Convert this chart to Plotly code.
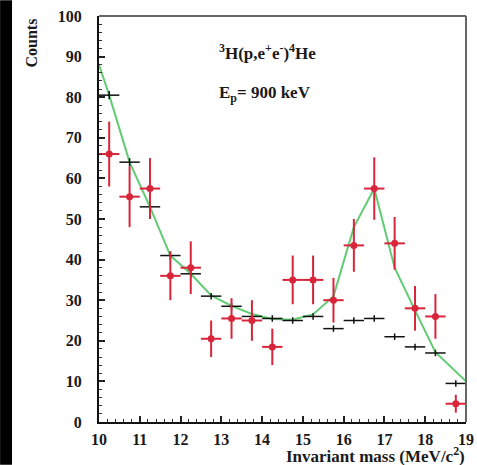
import plotly.graph_objects as go

# ---- data ----
bin_centers = [10.25, 10.75, 11.25, 11.75, 12.25, 12.75, 13.25, 13.75, 14.25,
               14.75, 15.25, 15.75, 16.25, 16.75, 17.25, 17.75, 18.25, 18.75]
bin_halfwidth = [0.25] * 18

data_counts = [66, 55.5, 57.5, 36, 38, 20.5, 25.5, 25, 18.5,
               35, 35, 30, 43.5, 57.5, 44, 28, 26, 4.5]
data_err = [8, 7.5, 7.5, 6, 6.5, 4.5, 5, 5, 4.5,
            6, 6, 5.5, 6.5, 7.7, 6.5, 5.5, 5.5, 2.2]

bkg_counts = [80.5, 64, 53, 41, 36.5, 31, 28.5, 26, 25.5,
              25, 26, 23, 25, 25.5, 21, 18.5, 17, 9.5]
bkg_err = [1, 1, 1, 1, 1, 0.8, 0.8, 0.8, 0.8,
           0.8, 0.8, 0.8, 0.8, 0.8, 0.8, 0.8, 0.8, 0.8]

fit_x = [10.0, 10.25, 10.75, 11.25, 11.75, 12.25, 12.75, 13.25, 13.75, 14.25,
         14.75, 15.25, 15.75, 16.25, 16.75, 17.25, 17.75, 18.25, 19.0]
fit_y = [88, 80.5, 64, 53, 41, 36.5, 31.2, 28.6, 26.6, 25.4,
         25.2, 26.5, 31, 48, 57.5, 38, 27.5, 17.2, 10]

x_ticks = [10, 11, 12, 13, 14, 15, 16, 17, 18, 19]
y_ticks = [0, 10, 20, 30, 40, 50, 60, 70, 80, 90, 100]

FONT = "Liberation Serif"
TXT = "#1a1a1a"
RED = "#d8253a"
GREEN = "#62cc74"

fig = go.Figure()

fig.add_trace(go.Scatter(
    x=fit_x, y=fit_y, mode="lines",
    line=dict(color=GREEN, width=2), hoverinfo="skip", showlegend=False))

fig.add_trace(go.Scatter(
    x=bin_centers, y=bkg_counts, mode="markers",
    marker=dict(size=1, color="#111111"),
    error_x=dict(type="data", array=bin_halfwidth, color="#111111", thickness=1.5, width=0),
    error_y=dict(type="data", array=bkg_err, color="#111111", thickness=1.5, width=0),
    showlegend=False))

fig.add_trace(go.Scatter(
    x=bin_centers, y=data_counts, mode="markers",
    marker=dict(size=7, color=RED),
    error_x=dict(type="data", array=bin_halfwidth, color=RED, thickness=2, width=0),
    error_y=dict(type="data", array=data_err, color=RED, thickness=2, width=0),
    showlegend=False))

axis_common = dict(
    showgrid=False, zeroline=False, showline=True, linecolor="#111111", linewidth=2,
    ticks="inside", tickcolor="#222222", tickwidth=1.5, automargin=False,
    tickfont=dict(family=FONT, size=16, color=TXT, weight="bold"),
)

fig.update_xaxes(range=[10, 19], tickvals=x_ticks, ticktext=[str(v) for v in x_ticks],
                 ticklen=6, ticklabelstandoff=2,
                 minor=dict(dtick=0.2, ticks="inside", ticklen=3, tickcolor="#333333", tickwidth=1),
                 **axis_common)
fig.update_yaxes(range=[0, 100], tickvals=y_ticks, ticktext=[str(v) for v in y_ticks],
                 ticklen=6, ticklabelstandoff=12,
                 minor=dict(dtick=2, ticks="inside", ticklen=3, tickcolor="#333333", tickwidth=1),
                 **axis_common)

fig.update_layout(
    width=477, height=465,
    margin=dict(l=99, r=11, t=16, b=43),
    paper_bgcolor="white", plot_bgcolor="white",
    shapes=[
        # top and right frame lines
        dict(type="line", xref="paper", yref="paper", x0=0, x1=1, y0=1, y1=1,
             line=dict(color="#666666", width=2)),
        dict(type="line", xref="paper", yref="paper", x0=1, x1=1, y0=0, y1=1,
             line=dict(color="#666666", width=2)),
        # black strip at left edge of the picture
        dict(type="rect", xref="paper", yref="paper", x0=-0.2695, x1=-0.237, y0=-0.105, y1=1.039,
             fillcolor="black", line=dict(width=0), layer="above"),
    ],
    annotations=[
        dict(text="<sup>3</sup>H(p,e<sup>+</sup>e<sup>-</sup>)<sup>4</sup>He",
             xref="paper", yref="paper", x=(217 - 99) / 367, y=(422 - 52) / 406,
             xanchor="left", yanchor="middle", showarrow=False,
             font=dict(family=FONT, size=17, color=TXT, weight="bold")),
        dict(text="E<sub>p</sub>= 900 keV",
             xref="paper", yref="paper", x=(217 - 99) / 367, y=(422 - 94) / 406,
             xanchor="left", yanchor="middle", showarrow=False,
             font=dict(family=FONT, size=17, color=TXT, weight="bold")),
        dict(text="Invariant mass (MeV/c<sup>2</sup>)",
             xref="paper", yref="paper", x=(467 - 99) / 367, y=-(455 - 422) / 406,
             xanchor="right", yanchor="middle", showarrow=False,
             font=dict(family=FONT, size=17, color=TXT, weight="bold")),
        dict(text="Counts", textangle=-90,
             xref="paper", yref="paper", x=(31 - 99) / 367, y=(422 - 17) / 406,
             xanchor="center", yanchor="top", showarrow=False,
             font=dict(family=FONT, size=16, color=TXT, weight="bold")),
    ],
)

fig.write_html("out.html", config={"displayModeBar": False},
               post_script="document.body.style.margin='0';document.body.style.overflow='hidden';")
